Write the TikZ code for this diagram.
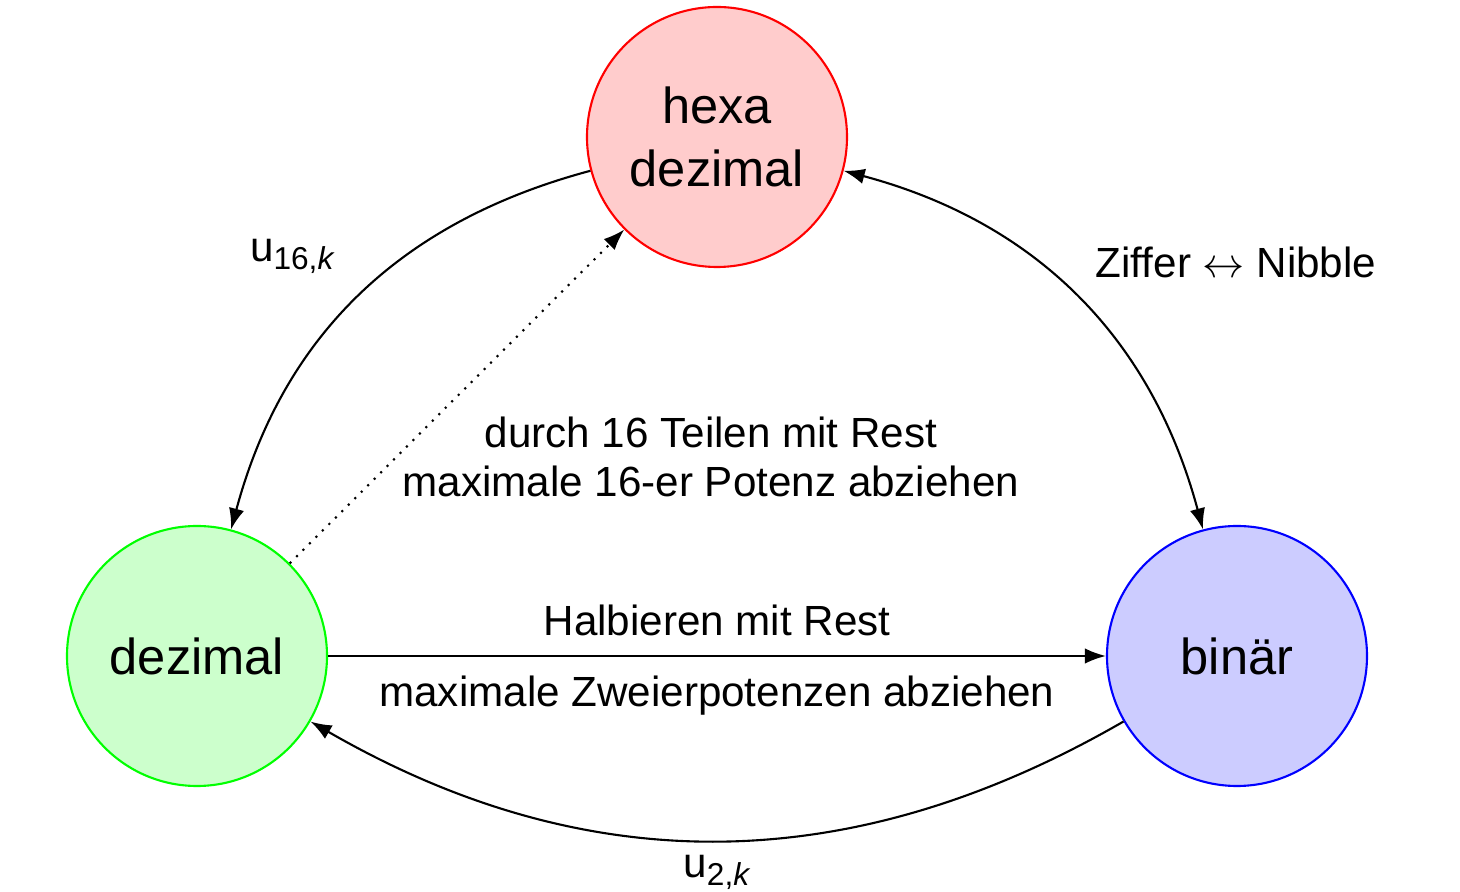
\documentclass[tikz,border=0pt]{standalone}
\usepackage{fontspec}
\setmainfont{Liberation Sans}
\usetikzlibrary{arrows.meta}

\newcommand{\idx}[1]{\raisebox{-2.4pt}{\small #1}}

\begin{document}
\begin{tikzpicture}[
  zahl/.style={draw, semithick, circle, minimum size=2.6cm, align=center, font=\Large},
  weg/.style={-{Latex[length=6pt,width=4.4pt]}, semithick},
  zweiweg/.style={{Latex[length=6pt,width=4.4pt]}-{Latex[length=6pt,width=4.4pt]}, semithick},
  font=\large
]
\useasboundingbox (0,0) rectangle (14.6,8.92);
%% die drei Zahlensysteme
\node[zahl, draw=red, fill=red!20] (hex) at (7.17,7.55) {hexa\\dezimal};
\node[zahl, draw=green, fill=green!20] (dez) at (1.97,2.36) {dezimal};
\node[zahl, draw=blue, fill=blue!20] (bin) at (12.37,2.36) {binär};
%
% hexa nach dezimal
\draw[weg] (hex) to[bend right=30] node[midway, above left=3pt] (u16) {u\idx{16,\textit{k}}} (dez);
% hexa <-> binaer
\draw[zweiweg] (hex) to[bend left=30] node[midway, above right=2pt] (nib) {Ziffer $\leftrightarrow$ Nibble} (bin);
% dezimal nach hexa
\draw[weg, dotted] (dez) -- (hex);
\node[align=center] (teil) at (7.11,4.35) {durch 16 Teilen mit Rest\\maximale 16-er Potenz abziehen};
% dezimal nach binaer
\draw[weg] (dez) -- node[midway, above=2pt] (halb) {Halbieren mit Rest} node[midway, below=2pt] (zwei) {maximale Zweierpotenzen abziehen} (bin);
% binaer nach dezimal
\draw[weg] (bin) to[bend left=30] node[midway, below=0.5pt] (u2) {u\idx{2,\textit{k}}} (dez);
\end{tikzpicture}
\end{document}
